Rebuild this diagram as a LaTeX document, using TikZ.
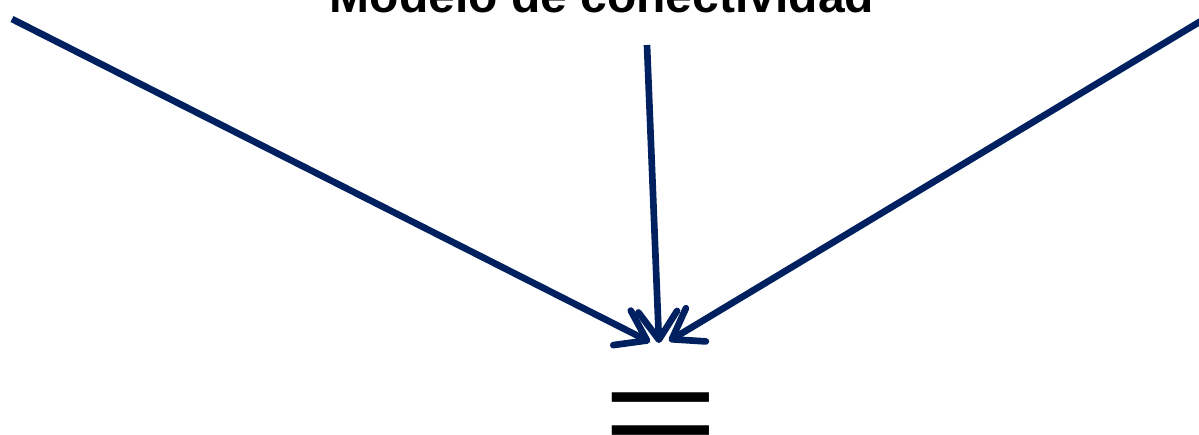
\documentclass[tikz,border=0pt]{standalone}
\usepackage{fontspec}
\setmainfont{Liberation Sans}
\usetikzlibrary{arrows.meta}
\definecolor{navy}{RGB}{0,32,96}
\begin{document}
\begin{tikzpicture}[x=0.75pt,y=-0.75pt,
  conn/.style={draw=navy,line width=5pt,line cap=butt,
    -{Straight Barb[length=21pt,width=29pt,line cap=round,line join=round]}},
  titletext/.style={font=\bfseries\fontsize{36}{40}\selectfont,text=black,inner sep=0pt,anchor=base},
  eqtext/.style={font=\fontsize{150}{150}\selectfont,text=black,inner sep=0pt,yscale=0.66}]
\useasboundingbox (0,0) rectangle (1199,435);
\begin{scope}
\clip (0,0) rectangle (1199,435);
\node[titletext] (title) at (602,13) {Modelo de conectividad};
\coordinate (a) at (12,19);
\coordinate (b) at (647,45);
\coordinate (c) at (1206,18);
\coordinate (ta) at (650,342);
\coordinate (tb) at (659,343);
\coordinate (tc) at (669,341);
\draw[conn] (a) -- (ta);
\draw[conn] (b) -- (tb);
\draw[conn] (c) -- (tc);
\node[eqtext] (eq) at (661,425) {=};
\end{scope}
\end{tikzpicture}
\end{document}
